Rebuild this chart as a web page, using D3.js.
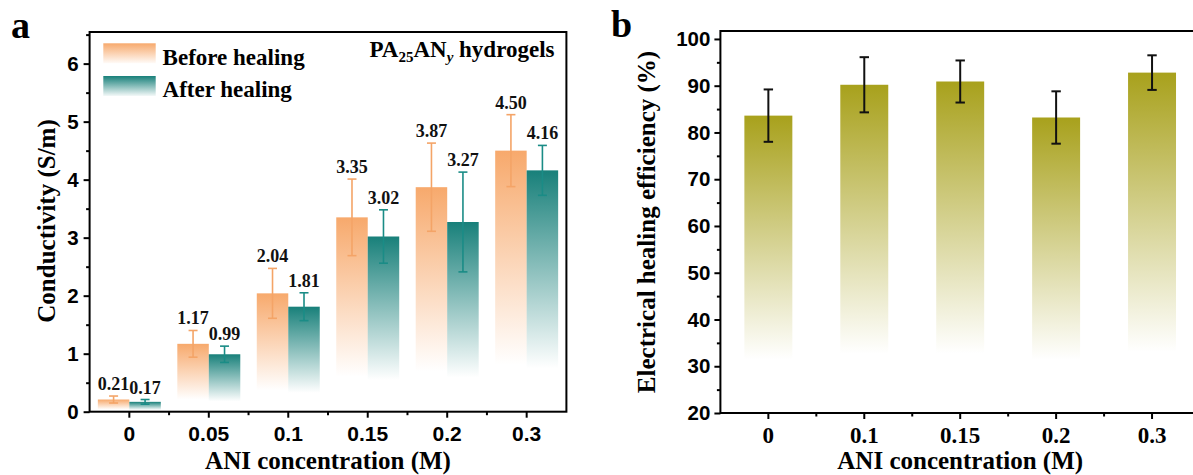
<!DOCTYPE html>
<html>
<head>
<meta charset="utf-8">
<script src="https://cdn.jsdelivr.net/npm/d3@7"></script>
<style>
  html, body { margin: 0; padding: 0; background: #fff; }
  svg { display: block; }
</style>
</head>
<body>
<svg id="chart" width="1193" height="475"></svg>
<script>
// ---------------- DATA ----------------
const categoriesA = ["0", "0.05", "0.1", "0.15", "0.2", "0.3"];
const seriesNames = ["Before healing", "After healing"];
const beforeVals = [0.21, 1.17, 2.04, 3.35, 3.87, 4.50];
const beforeErr  = [0.06, 0.23, 0.43, 0.66, 0.76, 0.62];
const afterVals  = [0.17, 0.99, 1.81, 3.02, 3.27, 4.16];
const afterErr   = [0.04, 0.14, 0.24, 0.46, 0.86, 0.43];
const yTicksA = [0, 1, 2, 3, 4, 5, 6];

const categoriesB = ["0", "0.1", "0.15", "0.2", "0.3"];
const effVals = [83.6, 90.2, 90.9, 83.2, 92.8];
const effErr  = [5.6, 5.9, 4.5, 5.6, 3.7];
const yTicksB = [20, 30, 40, 50, 60, 70, 80, 90, 100];

// ---------------- STYLE ----------------
const SERIF = "'Liberation Serif', 'Times New Roman', serif";
const SANS = "'Liberation Sans', Arial, sans-serif";
const colBefore = "#f7a96c";
const colBeforeErr = "#f4a467";
const colAfter = "#18807a";
const colAfterErr = "#1a8c86";
const colOlive = "#a8a11c";

const svg = d3.select("#chart");
const defs = svg.append("defs");
function grad(id, color) {
  const g = defs.append("linearGradient").attr("id", id)
    .attr("x1", 0).attr("y1", 0).attr("x2", 0).attr("y2", 1);
  g.append("stop").attr("offset", 0).attr("stop-color", color).attr("stop-opacity", 1);
  g.append("stop").attr("offset", 0.82).attr("stop-color", color).attr("stop-opacity", 0);
  g.append("stop").attr("offset", 1).attr("stop-color", color).attr("stop-opacity", 0);
}
grad("gBefore", colBefore);
grad("gAfter", colAfter);
grad("gOlive", colOlive);
const lgB = defs.append("linearGradient").attr("id", "lgBefore").attr("x1",0).attr("y1",0).attr("x2",0).attr("y2",1);
lgB.append("stop").attr("offset", 0).attr("stop-color", colBefore).attr("stop-opacity", 1);
lgB.append("stop").attr("offset", 1).attr("stop-color", colBefore).attr("stop-opacity", 0.05);
const lgA = defs.append("linearGradient").attr("id", "lgAfter").attr("x1",0).attr("y1",0).attr("x2",0).attr("y2",1);
lgA.append("stop").attr("offset", 0).attr("stop-color", colAfter).attr("stop-opacity", 1);
lgA.append("stop").attr("offset", 1).attr("stop-color", colAfter).attr("stop-opacity", 0.05);

// ================= PANEL A =================
const A = { left: 89.6, right: 566.4, top: 32, bottom: 411.7 };
const xA = d3.scaleBand().domain(categoriesA).range([A.left, A.right]).padding(0);
const xSubA = d3.scaleBand().domain(seriesNames).range([0, xA.bandwidth()]).paddingInner(0).paddingOuter(0.262);
const yA = d3.scaleLinear().domain([0, 6.545]).range([A.bottom, A.top]);

const gA = svg.append("g");

const seriesA = [
  { name: seriesNames[0], vals: beforeVals, errs: beforeErr, fill: "url(#gBefore)", err: colBeforeErr },
  { name: seriesNames[1], vals: afterVals, errs: afterErr, fill: "url(#gAfter)", err: colAfterErr }
];

seriesA.forEach(s => {
  const g = gA.append("g");
  categoriesA.forEach((c, i) => {
    const x0 = xA(c) + xSubA(s.name);
    const w = xSubA.bandwidth();
    const v = s.vals[i], e = s.errs[i];
    g.append("rect").attr("x", x0).attr("y", yA(v)).attr("width", w)
      .attr("height", yA(0) - yA(v)).attr("fill", s.fill);
    const cx = x0 + w / 2;
    const eg = g.append("g").attr("stroke", s.err).attr("stroke-width", 1.6).attr("fill", "none");
    eg.append("line").attr("x1", cx).attr("x2", cx).attr("y1", yA(v - e)).attr("y2", yA(v + e));
    eg.append("line").attr("x1", cx - 4.5).attr("x2", cx + 4.5).attr("y1", yA(v + e)).attr("y2", yA(v + e));
    eg.append("line").attr("x1", cx - 4.5).attr("x2", cx + 4.5).attr("y1", yA(v - e)).attr("y2", yA(v - e));
    g.append("text").attr("x", cx).attr("y", yA(v + e) - 6)
      .attr("text-anchor", "middle").attr("font-family", SERIF).attr("font-weight", "bold")
      .attr("font-size", 18).attr("fill", "#111").text(v.toFixed(2));
  });
});

// axes A
const axA = gA.append("g").attr("stroke", "#000").attr("stroke-width", 2).attr("fill", "none");
axA.append("rect").attr("x", A.left).attr("y", A.top).attr("width", A.right - A.left).attr("height", A.bottom - A.top);

// y ticks
const yAxisA = d3.axisLeft(yA).tickValues(yTicksA).tickSize(6).tickPadding(5).tickFormat(d3.format("d"));
const gyA = gA.append("g").attr("transform", `translate(${A.left},0)`).call(yAxisA);
gyA.select(".domain").remove();
gyA.selectAll("line").attr("stroke-width", 2);
gyA.selectAll("text").attr("font-family", SANS).attr("font-weight", "bold").attr("font-size", 20.5).attr("fill", "#000");
const minorA = d3.range(0.5, 6.6, 1);
const gyAm = gA.append("g").attr("transform", `translate(${A.left},0)`)
  .call(d3.axisLeft(yA).tickValues(minorA).tickSize(3.5).tickFormat(""));
gyAm.select(".domain").remove();
gyAm.selectAll("line").attr("stroke-width", 2);

// x ticks
const xAxisA = d3.axisBottom(xA).tickSize(6).tickPadding(8);
const gxA = gA.append("g").attr("transform", `translate(0,${A.bottom})`).call(xAxisA);
gxA.select(".domain").remove();
gxA.selectAll("line").attr("stroke-width", 2);
gxA.selectAll("text").attr("font-family", SANS).attr("font-weight", "bold").attr("font-size", 21).attr("fill", "#000");
categoriesA.slice(1).forEach(c => {
  gA.append("line").attr("x1", xA(c)).attr("x2", xA(c)).attr("y1", A.bottom).attr("y2", A.bottom + 3.5)
    .attr("stroke", "#000").attr("stroke-width", 2);
});

// titles A
gA.append("text").attr("x", (A.left + A.right) / 2).attr("y", 469).attr("text-anchor", "middle")
  .attr("font-family", SERIF).attr("font-weight", "bold").attr("font-size", 25).text("ANI concentration (M)");
gA.append("text").attr("transform", "translate(55,221) rotate(-90)").attr("text-anchor", "middle")
  .attr("font-family", SERIF).attr("font-weight", "bold").attr("font-size", 25).text("Conductivity (S/m)");
svg.append("text").attr("x", 11).attr("y", 38).attr("font-family", SERIF).attr("font-weight", "bold")
  .attr("font-size", 38).text("a");

// legend
const leg = gA.append("g");
[["url(#lgBefore)", seriesNames[0], 43.3, 65], ["url(#lgAfter)", seriesNames[1], 76, 97]].forEach(d => {
  leg.append("rect").attr("x", 103.3).attr("y", d[2]).attr("width", 52.4).attr("height", 20).attr("fill", d[0]);
  leg.append("text").attr("x", 162.6).attr("y", d[3]).attr("font-family", SERIF).attr("font-weight", "bold")
    .attr("font-size", 23).text(d[1]);
});
const ttl = gA.append("text").attr("x", 554.5).attr("y", 57).attr("text-anchor", "end")
  .attr("font-family", SERIF).attr("font-weight", "bold").attr("font-size", 23);
ttl.append("tspan").text("PA");
ttl.append("tspan").attr("font-size", 15).attr("dy", 5).text("25");
ttl.append("tspan").attr("dy", -5).text("AN");
ttl.append("tspan").attr("font-size", 15).attr("font-style", "italic").attr("dy", 5).text("y");
ttl.append("tspan").attr("dy", -5).text(" hydrogels");

// ================= PANEL B =================
const B = { left: 720.4, right: 1200, top: 31, bottom: 413 };
const xB = d3.scaleBand().domain(categoriesB).range([B.left, B.right]).paddingInner(0.5).paddingOuter(0.25);
const yB = d3.scaleLinear().domain([20, 101.7]).range([B.bottom, B.top]);
const gB = svg.append("g");

categoriesB.forEach((c, i) => {
  const x0 = xB(c), w = xB.bandwidth(), v = effVals[i], e = effErr[i];
  gB.append("rect").attr("x", x0).attr("y", yB(v)).attr("width", w).attr("height", yB(20) - yB(v))
    .attr("fill", "url(#gOlive)");
  const cx = x0 + w / 2;
  const eg = gB.append("g").attr("stroke", "#111").attr("stroke-width", 2);
  eg.append("line").attr("x1", cx).attr("x2", cx).attr("y1", yB(v - e)).attr("y2", yB(v + e));
  eg.append("line").attr("x1", cx - 4.7).attr("x2", cx + 4.7).attr("y1", yB(v + e)).attr("y2", yB(v + e));
  eg.append("line").attr("x1", cx - 4.7).attr("x2", cx + 4.7).attr("y1", yB(v - e)).attr("y2", yB(v - e));
});

gB.append("rect").attr("x", B.left).attr("y", B.top).attr("width", B.right - B.left).attr("height", B.bottom - B.top)
  .attr("fill", "none").attr("stroke", "#000").attr("stroke-width", 2);

const gyB = gB.append("g").attr("transform", `translate(${B.left},0)`)
  .call(d3.axisLeft(yB).tickValues(yTicksB).tickSize(6).tickPadding(4).tickFormat(d3.format("d")));
gyB.select(".domain").remove();
gyB.selectAll("line").attr("stroke-width", 2);
gyB.selectAll("text").attr("font-family", SANS).attr("font-weight", "bold").attr("font-size", 20.5).attr("fill", "#000");
const gyBm = gB.append("g").attr("transform", `translate(${B.left},0)`)
  .call(d3.axisLeft(yB).tickValues(d3.range(25, 100, 10)).tickSize(3.5).tickFormat(""));
gyBm.select(".domain").remove();
gyBm.selectAll("line").attr("stroke-width", 2);

const gxB = gB.append("g").attr("transform", `translate(0,${B.bottom})`)
  .call(d3.axisBottom(xB).tickSize(6).tickPadding(8));
gxB.select(".domain").remove();
gxB.selectAll("line").attr("stroke-width", 2);
gxB.selectAll("text").attr("font-family", SERIF).attr("font-weight", "bold").attr("font-size", 23).attr("fill", "#000");
categoriesB.forEach(c => {
  const xb = xB(c) + xB.bandwidth() / 2 + xB.step() / 2;
  gB.append("line").attr("x1", xb).attr("x2", xb).attr("y1", B.bottom).attr("y2", B.bottom + 3.5)
    .attr("stroke", "#000").attr("stroke-width", 2);
});

gB.append("text").attr("x", (B.left + B.right) / 2).attr("y", 469).attr("text-anchor", "middle")
  .attr("font-family", SERIF).attr("font-weight", "bold").attr("font-size", 25).text("ANI concentration (M)");
gB.append("text").attr("transform", "translate(655,222) rotate(-90)").attr("text-anchor", "middle")
  .attr("font-family", SERIF).attr("font-weight", "bold").attr("font-size", 25).text("Electrical healing efficiency (%)");
svg.append("text").attr("x", 611).attr("y", 37).attr("font-family", SERIF).attr("font-weight", "bold")
  .attr("font-size", 38).text("b");
</script>
</body>
</html>
